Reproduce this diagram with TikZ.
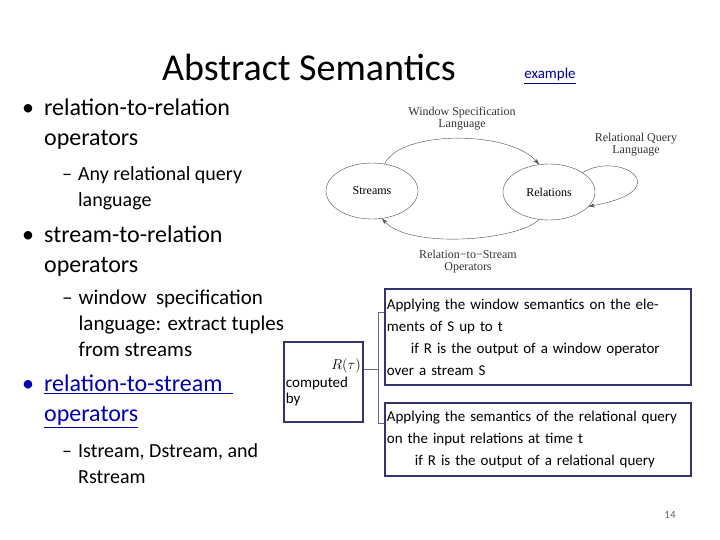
\documentclass[tikz,border=0pt]{standalone}
\usepackage{fontspec}
\setmainfont{Carlito}
\newfontfamily\serifdiag{Liberation Serif}
\usetikzlibrary{arrows.meta,shapes.geometric}
\begin{document}
\begin{tikzpicture}[x=1pt,y=-1pt,
  txt/.style={anchor=north west,inner sep=0pt,align=left},
  ell/.style={draw=black!70,ellipse,minimum width=92pt,minimum height=56pt,font=\serifdiag\fontsize{12}{13}\selectfont,thin},
  dlab/.style={font=\serifdiag\fontsize{12}{12}\selectfont,align=center,text=black!80},
  arr/.style={draw=black!70,thin,-{Stealth[length=6pt,width=4pt]}},
  bx/.style={draw=blue!30!black!80,line width=1.8pt,anchor=north west,inner sep=2pt,align=left,font=\fontsize{15}{22}\selectfont,text width=#1},
]
\useasboundingbox (0,0) rectangle (720,540);
\node[anchor=center,font=\fontsize{38}{40}\selectfont] (title) at (309,67) {Abstract Semantics};
\node[anchor=center,font=\fontsize{15}{15}\selectfont,text=blue!60!black] (ex) at (550,76) {\underline{example}};
% bullets
\node[txt,font=\fontsize{24}{30}\selectfont] (b1) at (22,99) {•\hspace{10pt}\parbox[t]{250pt}{relation-to-relation\\operators}};
\node[txt,font=\fontsize{20}{26}\selectfont] (s1) at (62,166) {–\hspace{6pt}\parbox[t]{220pt}{Any relational query\\language}};
\node[txt,font=\fontsize{24}{30}\selectfont] (b2) at (22,226) {•\hspace{10pt}\parbox[t]{250pt}{stream-to-relation\\operators}};
\node[txt,font=\fontsize{21}{26}\selectfont] (s2) at (62,290) {–\hspace{6pt}\parbox[t]{240pt}{window\ \ specification\\language: extract tuples\\from streams}};
\node[txt,font=\fontsize{24}{30}\selectfont,text=blue!70!black] (b3) at (22,375) {•\hspace{10pt}\parbox[t]{230pt}{\underline{relation-to-stream\ \ }\\\underline{operators}}};
\node[txt,font=\fontsize{20}{26}\selectfont] (s3) at (62,443) {–\hspace{6pt}\parbox[t]{240pt}{Istream, Dstream, and\\Rstream}};
% diagram
\node[ell] (st) at (372,191) {Streams};
\node[ell] (rel) at (549,192) {Relations};
\node[dlab] (l1) at (462,119) {Window Specification\\Language};
\node[dlab] (l2) at (636,145) {Relational Query\\Language};
\node[dlab] (l3) at (468,262) {Relation\textminus to\textminus Stream\\Operators};
\draw[arr] (st.65) .. controls (400,130) and (510,130) .. (rel.110);
\draw[arr] (rel.250) .. controls (520,240) and (410,250) .. (st.290);
\draw[arr] (rel.30) .. controls (620,150) and (680,190) .. (rel.340);
% boxes
\node[bx=75pt,minimum height=80pt] (rb) at (283,341) {\hfill$R(\tau)$\\[-4pt]computed\\[-6pt]by};
\node[bx=302pt,minimum height=96pt] (wb) at (384,288) {Applying the window semantics on the elements of S up to t\\\hspace*{24pt}if R is the output of a window operator over a stream S};
\node[bx=302pt,minimum height=73pt] (qb) at (384,402) {Applying the semantics of the relational query on the input relations at time t\\\hspace*{28pt}if R is the output of a relational query};
\coordinate (bt) at (378,312);
\coordinate (bb) at (378,423);
\coordinate (bm) at (378,369);
\draw[blue!30!black!60,thin] (wb.west|-bt) -- (bt) -- (bb) -- (qb.west|-bb);
\draw[blue!30!black!60,thin] (bm) -- (rb.east|-bm);
\node[font=\fontsize{11}{11}\selectfont,text=black!60] (pg) at (670,515) {14};
\end{tikzpicture}
\end{document}
